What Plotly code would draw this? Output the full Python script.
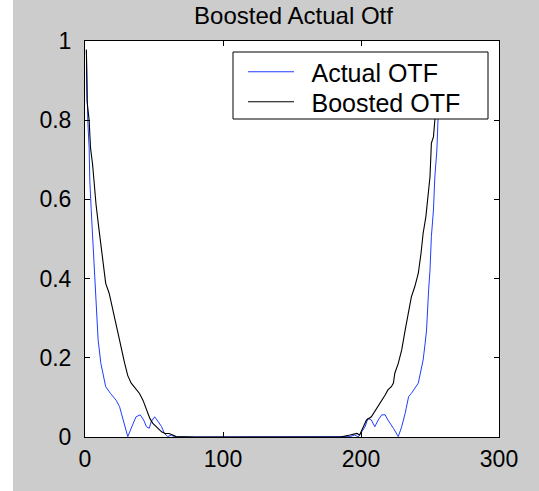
import plotly.graph_objects as go

# Data
actual_x = [1, 1.5, 2, 3, 3.5, 4.5, 5.5, 6.5, 7.5, 8.5,
            9.5, 11.5, 14, 15, 18.5, 22.5, 25, 27, 29, 31,
            35, 37, 40, 42.5, 44.5, 46.5, 48, 50.5, 53, 55.5,
            57.5, 60, 62.5, 65, 80, 120, 160, 185, 192, 195.5,
            198, 203, 205, 207.5, 210, 212.5, 215, 217.5, 219.5, 223.5,
            227, 229.5, 232, 234.5, 236.5, 241.5, 243, 245, 246.5, 247.5,
            249, 250, 251, 252.5, 253.5, 255, 256]
actual_y = [0.978, 0.848, 0.80, 0.73, 0.646, 0.574, 0.502, 0.447, 0.371, 0.313,
            0.245, 0.186, 0.136, 0.127, 0.110, 0.093, 0.077, 0.051, 0.026, 0.001,
            0.035, 0.051, 0.056, 0.043, 0.026, 0.022, 0.039, 0.051, 0.039, 0.026,
            0.009, 0.001, 0.005, 0, 0, 0, 0, 0, 0.001, 0.005,
            0, 0.026, 0.047, 0.043, 0.026, 0.043, 0.056, 0.056, 0.043, 0.022,
            0.001, 0.026, 0.060, 0.102, 0.110, 0.136, 0.161, 0.194, 0.237, 0.270,
            0.371, 0.422, 0.506, 0.573, 0.657, 0.725, 0.82]

boosted_x = [1, 1.5, 3, 4, 5.5, 7, 8, 10, 11.5, 13,
             15, 17.5, 20, 22.5, 25, 28.5, 31, 33.5, 37, 39.5,
             42, 44.5, 47, 49, 53, 55.5, 58, 61, 63.5, 66,
             80, 120, 160, 185, 192, 197, 199, 201.5, 204, 207.5,
             212.5, 215, 217.5, 219.5, 222, 223.5, 224.5, 227, 229.5, 232,
             234.5, 236.5, 239, 241.5, 243.5, 245, 247, 249, 250, 251,
             252.5, 253.5, 255, 256]
boosted_y = [0.978, 0.848, 0.80, 0.73, 0.688, 0.625, 0.587, 0.528, 0.49, 0.439,
             0.388, 0.363, 0.321, 0.287, 0.245, 0.19, 0.155, 0.136, 0.119, 0.110,
             0.093, 0.068, 0.047, 0.035, 0.022, 0.013, 0.009, 0.009, 0.005, 0.001,
             0, 0, 0, 0, 0.005, 0.009, 0.005, 0.026, 0.043, 0.051,
             0.077, 0.093, 0.106, 0.119, 0.127, 0.136, 0.161, 0.186, 0.220, 0.270,
             0.321, 0.354, 0.380, 0.413, 0.464, 0.514, 0.556, 0.624, 0.657, 0.742,
             0.758, 0.80, 0.84, 0.86]

series_names = ["Actual OTF", "Boosted OTF"]
x_ticks = [0, 100, 200, 300]
y_ticks = [0, 0.2, 0.4, 0.6, 0.8, 1]

FONT = "Arial, Liberation Sans, sans-serif"

W, H = 539, 491
L, R, T, B = 85, 40, 41, 54
pw = W - L - R
ph = H - T - B


def px_x(p):
    return (p - L) / pw


def px_y(p):
    return (H - B - p) / ph


fig = go.Figure()
fig.add_trace(go.Scatter(x=actual_x, y=actual_y, mode="lines",
                         name="\u2002" + series_names[0], legend="legend",
                         line=dict(color="#1f3dff", width=1)))
fig.add_trace(go.Scatter(x=boosted_x, y=boosted_y, mode="lines",
                         name="\u2002" + series_names[1], legend="legend2",
                         line=dict(color="#000000", width=1.1)))

axis_common = dict(showline=True, linecolor="black", linewidth=1, mirror="ticks",
                   ticks="inside", ticklen=5, tickcolor="black", showgrid=False,
                   zeroline=False, tickfont=dict(family=FONT, size=23, color="black"))

leg_common = dict(xanchor="left", yanchor="middle", bgcolor="rgba(0,0,0,0)",
                  borderwidth=0, font=dict(family=FONT, size=25, color="black"),
                  itemwidth=46)

fig.update_layout(
    width=W, height=H,
    margin=dict(l=L, r=R, t=T, b=B, pad=0),
    paper_bgcolor="#cccccc",
    plot_bgcolor="white",
    showlegend=True,
    hovermode=False,
    title=dict(text="Boosted Actual Otf", x=293.5 / W, xanchor="center",
               yref="container", y=1 - 24 / H, yanchor="bottom",
               font=dict(family=FONT, size=24, color="black")),
    xaxis=dict(range=[0, 300], tickvals=x_ticks, ticklabelstandoff=1, **axis_common),
    yaxis=dict(range=[0, 1], tickvals=y_ticks, ticklabelstandoff=8, **axis_common),
    legend=dict(x=px_x(243), y=px_y(72), **leg_common),
    legend2=dict(x=px_x(243), y=px_y(102), **leg_common),
    shapes=[
        dict(type="rect", xref="paper", yref="paper",
             x0=-L / pw, x1=px_x(13), y0=-B / ph, y1=(H - B) / ph,
             fillcolor="white", line=dict(width=0), layer="below"),
        dict(type="rect", xref="paper", yref="paper",
             x0=px_x(233), x1=px_x(488), y0=px_y(119), y1=px_y(52),
             fillcolor="white", line=dict(color="black", width=1), layer="above"),
    ],
)

fig.write_html("out.html")
